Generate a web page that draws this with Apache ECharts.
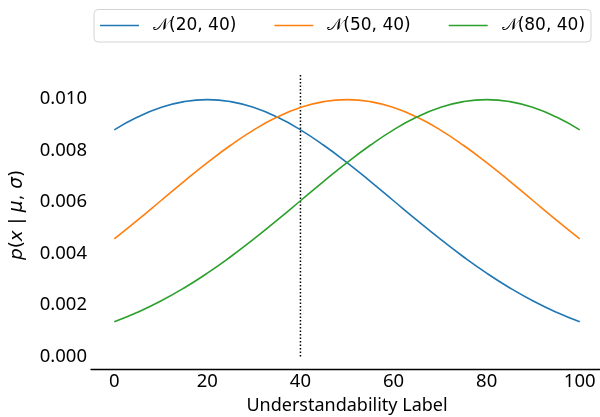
<!DOCTYPE html>
<html>
<head>
<meta charset="utf-8">
<script src="https://cdn.jsdelivr.net/npm/echarts@6/dist/echarts.min.js"></script>
<style>
  html, body { margin: 0; padding: 0; background: #fff; }
  #chart { width: 600px; height: 417px; }
</style>
</head>
<body>
<div id="chart"></div>
<script>
// Sample positions along the label axis
const xValues = [0, 5, 10, 15, 20, 25, 30, 35, 40, 45, 50, 55, 60, 65, 70, 75, 80, 85, 90, 95, 100];

// Density values for each curve at xValues
const densityMu20 = [0.008802, 0.009297, 0.009667, 0.009896, 0.009974, 0.009896, 0.009667, 0.009297, 0.008802, 0.008204, 0.007529, 0.006802, 0.006049, 0.005297, 0.004566, 0.003876, 0.003238, 0.002664, 0.002157, 0.001720, 0.001350];
const densityMu50 = [0.004566, 0.005297, 0.006049, 0.006802, 0.007529, 0.008204, 0.008802, 0.009297, 0.009667, 0.009896, 0.009974, 0.009896, 0.009667, 0.009297, 0.008802, 0.008204, 0.007529, 0.006802, 0.006049, 0.005297, 0.004566];
const densityMu80 = [0.001350, 0.001720, 0.002157, 0.002664, 0.003238, 0.003876, 0.004566, 0.005297, 0.006049, 0.006802, 0.007529, 0.008204, 0.008802, 0.009297, 0.009667, 0.009896, 0.009974, 0.009896, 0.009667, 0.009297, 0.008802];

const seriesNames = ['𝒩(20, 40)', '𝒩(50, 40)', '𝒩(80, 40)'];
const seriesColors = ['#1f77b4', '#ff7f0e', '#2ca02c'];

// Threshold marker
const thresholdX = 40;
const thresholdTop = 0.011;

const xTicks = [0, 20, 40, 60, 80, 100];
const yTicks = [0, 0.002, 0.004, 0.006, 0.008, 0.010];

const allDensities = [densityMu20, densityMu50, densityMu80];

const chart = echarts.init(document.getElementById('chart'), null, { renderer: 'canvas' });

const curveSeries = allDensities.map((vals, i) => ({
  name: seriesNames[i],
  type: 'line',
  data: xValues.map((x, j) => [x, vals[j]]),
  smooth: true,
  symbol: 'none',
  lineStyle: { color: seriesColors[i], width: 1.6 },
  itemStyle: { color: seriesColors[i] },
  silent: true,
  animation: false,
  z: 3
}));

chart.setOption({
  animation: false,
  grid: { left: 91, right: -3, top: 60.3, height: 309.2, containLabel: false, outerBoundsMode: 'none' },
  legend: {
    left: 94,
    top: 9.5,
    orient: 'horizontal',
    // line sample followed by an empty stretch before the label
    icon: 'path://M0 0H39V1.6H0Z M47.95 0H48V1.6H47.95Z',
    itemWidth: 48,
    itemHeight: 1.6,
    itemGap: 38,
    padding: [7, 6, 7.5, 6],
    borderColor: '#d4d4d4',
    borderWidth: 1,
    borderRadius: 4,
    backgroundColor: '#fff',
    textStyle: {
      fontFamily: 'DejaVu Sans',
      fontSize: 17,
      color: '#000',
      lineHeight: 18
    },
    data: seriesNames
  },
  xAxis: {
    type: 'value',
    min: -5,
    max: 105,
    name: 'Understandability Label',
    nameLocation: 'middle',
    nameGap: 25,
    nameTextStyle: { fontFamily: 'Noto Sans', fontSize: 18, color: '#000' },
    axisLine: { show: true, onZero: false, lineStyle: { color: '#000', width: 1.3 } },
    axisTick: { show: false },
    splitLine: { show: false },
    axisLabel: {
      customValues: xTicks,
      margin: 3,
      fontFamily: 'Noto Sans',
      fontSize: 18.5,
      color: '#000',
      formatter: v => String(v)
    }
  },
  yAxis: {
    type: 'value',
    min: -0.0005,
    max: 0.0115,
    name: '{i|p}({i|x} | {i|μ}, {i|σ})',
    nameLocation: 'middle',
    nameRotate: 90,
    nameGap: 64,
    nameTextStyle: {
      fontFamily: 'DejaVu Sans',
      fontSize: 18.5,
      color: '#000',
      rich: { i: { fontFamily: 'DejaVu Sans', fontSize: 18.5, fontStyle: 'italic', color: '#000' } }
    },
    axisLine: { show: false },
    axisTick: { show: false },
    splitLine: { show: false },
    axisLabel: {
      customValues: yTicks,
      margin: 4,
      fontFamily: 'Noto Sans',
      fontSize: 18.5,
      color: '#000',
      formatter: v => v.toFixed(3)
    }
  },
  series: curveSeries.concat([{
    name: 'threshold',
    type: 'line',
    data: [[thresholdX, 0], [thresholdX, thresholdTop]],
    symbol: 'none',
    lineStyle: { color: '#000', width: 1.5, type: [1.5, 2] },
    silent: true,
    animation: false,
    z: 2
  }])
});
</script>
</body>
</html>
